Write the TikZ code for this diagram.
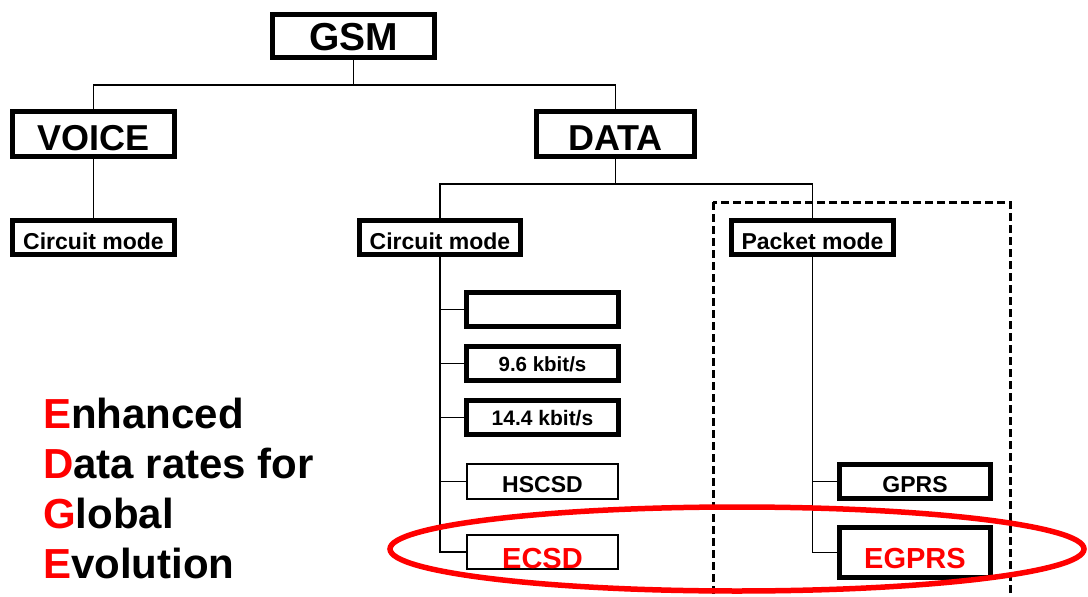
\documentclass[tikz,border=0pt]{standalone}
\usepackage{fontspec}
\setmainfont{Liberation Sans}
\definecolor{edgered}{RGB}{255,0,0}
\newcommand{\fs}[1]{\fontsize{#1}{#1}\selectfont}
% set a label with its baseline a given distance below the box centre
\newcommand{\low}[2]{\raisebox{-#1}[0pt][0pt]{#2}}
\begin{document}
\begin{tikzpicture}[x=1pt,y=-1pt,
  thickbox/.style={draw=black,line width=5pt,fill=white,inner sep=0pt,font=\bfseries},
  thinbox/.style={draw=black,line width=2pt,fill=white,inner sep=0pt,font=\bfseries},
  link/.style={draw=black,line width=1.5pt},
  acro/.style={anchor=base west,inner sep=0pt,font=\bfseries\fs{42}}]
\useasboundingbox[fill=white] (0,0) rectangle (1088,597);

% packet-switched group frame
\draw[line width=3pt,dash pattern=on 8pt off 4pt] (713,202) rectangle (1010,615);

% top levels
\node[thickbox,minimum width=162pt,minimum height=43pt,font=\bfseries\fs{39}] (gsm) at (353.5,36) {\low{14pt}{GSM}};
\node[thickbox,minimum width=162pt,minimum height=45pt,font=\bfseries\fs{36}] (voice) at (93.5,134) {\low{16pt}{VOICE}};
\node[thickbox,minimum width=158pt,minimum height=45pt,font=\bfseries\fs{36}] (data) at (615.5,134) {\low{16pt}{DATA}};

% modes
\node[thickbox,minimum width=162pt,minimum height=34pt,font=\bfseries\fs{23}] (vcirc) at (93.5,237.5) {\low{11.5pt}{Circuit mode}};
\node[thickbox,minimum width=161pt,minimum height=34pt,font=\bfseries\fs{23}] (dcirc) at (440,237.5) {\low{12pt}{Circuit mode}};
\node[thickbox,minimum width=162pt,minimum height=34pt,font=\bfseries\fs{23}] (pkt) at (812.5,237.5) {\low{11.5pt}{Packet mode}};

% circuit-switched data services
\node[thickbox,minimum width=152pt,minimum height=34pt] (blank) at (542.5,309.5) {};
\node[thickbox,minimum width=152pt,minimum height=34pt,font=\bfseries\fs{20.5}] (r96) at (542.5,363.5) {\low{8pt}{9.6 kbit/s}};
\node[thickbox,minimum width=152pt,minimum height=34pt,font=\bfseries\fs{21}] (r144) at (542.5,417.5) {\low{7.5pt}{14.4 kbit/s}};
\node[thinbox,minimum width=151pt,minimum height=35pt,font=\bfseries\fs{23}] (hscsd) at (542.5,481.5) {\low{10.5pt}{HSCSD}};
\node[thinbox,minimum width=151pt,minimum height=34pt,font=\bfseries\fs{29},text=edgered] (ecsd) at (542.5,552) {\low{16pt}{ECSD}};

% packet-switched data services
\node[thickbox,minimum width=151pt,minimum height=34pt,font=\bfseries\fs{23}] (gprs) at (915,481.5) {\low{10.5pt}{GPRS}};
\node[thickbox,minimum width=151pt,minimum height=50pt,font=\bfseries\fs{29},text=edgered] (egprs) at (915,552.5) {\low{15.5pt}{EGPRS}};

% tree connectors
\coordinate (gsmbus) at (353.5,85);
\coordinate (databus) at (615.5,184);
\draw[link] (gsm.south) -- (gsmbus);
\draw[link] (voice.north) |- (gsmbus) -| (data.north);
\draw[link] (voice.south) -- (vcirc.north);
\draw[link] (data.south) -- (databus);
\draw[link] (dcirc.north) |- (databus) -| (pkt.north);
\draw[link] (dcirc.south) |- (ecsd.west);
\draw[link] (dcirc.south |- blank.west) -- (blank.west);
\draw[link] (dcirc.south |- r96.west) -- (r96.west);
\draw[link] (dcirc.south |- r144.west) -- (r144.west);
\draw[link] (dcirc.south |- hscsd.west) -- (hscsd.west);
\draw[link] (pkt.south) |- (egprs.west);
\draw[link] (pkt.south |- gprs.west) -- (gprs.west);

% EDGE highlight
\draw[edgered,line width=5.5pt] (737,549) ellipse [x radius=347pt,y radius=42pt];

% acronym
\node[acro] (l1) at (43,428) {\textcolor{edgered}{E}nhanced};
\node[acro] (l2) at (43,478) {\textcolor{edgered}{D}ata rates for};
\node[acro] (l3) at (43,528) {\textcolor{edgered}{G}lobal};
\node[acro] (l4) at (43,578) {\textcolor{edgered}{E}volution};
\end{tikzpicture}
\end{document}
